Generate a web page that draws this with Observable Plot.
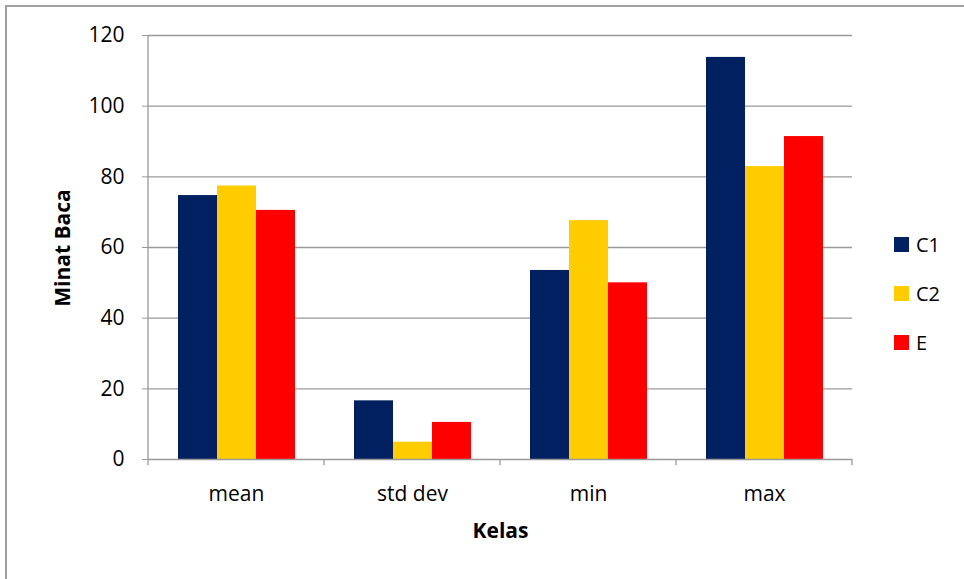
<!DOCTYPE html>
<html><head><meta charset="utf-8">
<script src="https://cdn.jsdelivr.net/npm/d3@7"></script>
<script src="https://cdn.jsdelivr.net/npm/@observablehq/plot@0.6"></script>
<style>
body{margin:0;background:#fff;font-family:"Open Sans",sans-serif;}
#wrap{position:relative;width:964px;height:579px;overflow:hidden;background:#fff;}
#frame{position:absolute;left:5px;top:5px;width:1200px;height:1200px;border-top:2px solid #a0a0a0;border-left:2px solid #a0a0a0;box-sizing:border-box;pointer-events:none;}
#chart{position:absolute;left:0;top:0;}
#legend{position:absolute;left:894px;top:220px;font-size:20px;color:#000;}
.item{display:flex;align-items:center;height:49px;}
.sw{width:15px;height:15px;margin-right:7px;}
#ylabel{position:absolute;left:62px;top:248px;transform:translate(-50%,-50%) rotate(-90deg);font-size:21px;font-weight:bold;white-space:nowrap;color:#000;}
g[aria-label="fx-axis label"] text, g[aria-label="fx-axis label"]{font-weight:bold;}
</style>
</head><body>
<div id="wrap"><div id="frame"></div><div id="chart"></div><div id="legend"></div><div id="ylabel"></div></div>
<script>
const categories = ["mean", "std dev", "min", "max"];
const series = ["C1", "C2", "E"];
const valuesC1 = [74.7, 16.6, 53.5, 113.8];
const valuesC2 = [77.4, 4.9, 67.6, 82.9];
const valuesE = [70.5, 10.5, 50.0, 91.4];
const yTicks = [0, 20, 40, 60, 80, 100, 120];
const colors = ["#002060", "#FFCC00", "#FF0000"];
const xTitle = "Kelas";
const yTitle = "Minat Baca";

const seriesValues = [valuesC1, valuesC2, valuesE];
const data = [];
categories.forEach((c, i) => series.forEach((s, j) => data.push({cat: c, s, v: seriesValues[j][i]})));

const plot = Plot.plot({
  width: 964, height: 579,
  marginLeft: 147, marginRight: 112, marginTop: 35, marginBottom: 120,
  style: {fontFamily: "Open Sans", fontSize: "21px", color: "#000", background: "transparent"},
  fx: {domain: categories, padding: 0},
  x: {domain: series, paddingInner: 0, paddingOuter: 0.756, axis: null},
  y: {domain: [0, 120]},
  color: {domain: series, range: colors},
  marks: [
    Plot.gridY(yTicks.filter(t => t > 0), {stroke: "#999", strokeOpacity: 1, strokeWidth: 1.3}),
    Plot.barY(data, {fx: "cat", x: "s", y: "v", fill: "s"}),
    Plot.ruleY([0], {stroke: "#999", strokeWidth: 1.3}),
    Plot.axisY({ticks: yTicks, tickSize: 6, tickPadding: 18, stroke: "#999", fill: "#000", fontSize: 21, label: null}),
    Plot.axisFx({anchor: "bottom", tickSize: 0, tickPadding: 27, fill: "#000", fontSize: 21,
      label: xTitle, labelAnchor: "center", labelOffset: 78})
  ]
});
document.getElementById("chart").appendChild(plot);
document.getElementById("ylabel").textContent = yTitle;

// axis line and category boundary ticks, positioned via the plot's scales
const fx = plot.scale("fx"), y = plot.scale("y");
const svg = d3.select(plot.tagName.toLowerCase() === "svg" ? plot : plot.querySelector("svg"));
const x0 = fx.apply(categories[0]);
const y0 = y.apply(0), yTop = y.apply(120);
const g = svg.append("g").attr("stroke", "#999").attr("stroke-width", 1.3);
g.append("line").attr("x1", x0).attr("x2", x0).attr("y1", yTop).attr("y2", y0);
const bounds = categories.map(c => fx.apply(c));
bounds.push(fx.apply(categories[categories.length - 1]) + fx.bandwidth);
bounds.forEach(b => g.append("line").attr("x1", b).attr("x2", b).attr("y1", y0).attr("y2", y0 + 6));

// legend
const leg = document.getElementById("legend");
series.forEach((s, i) => {
  const it = document.createElement("div"); it.className = "item";
  const sw = document.createElement("div"); sw.className = "sw"; sw.style.background = colors[i];
  const t = document.createElement("span"); t.textContent = s;
  it.appendChild(sw); it.appendChild(t); leg.appendChild(it);
});
</script>
</body></html>
